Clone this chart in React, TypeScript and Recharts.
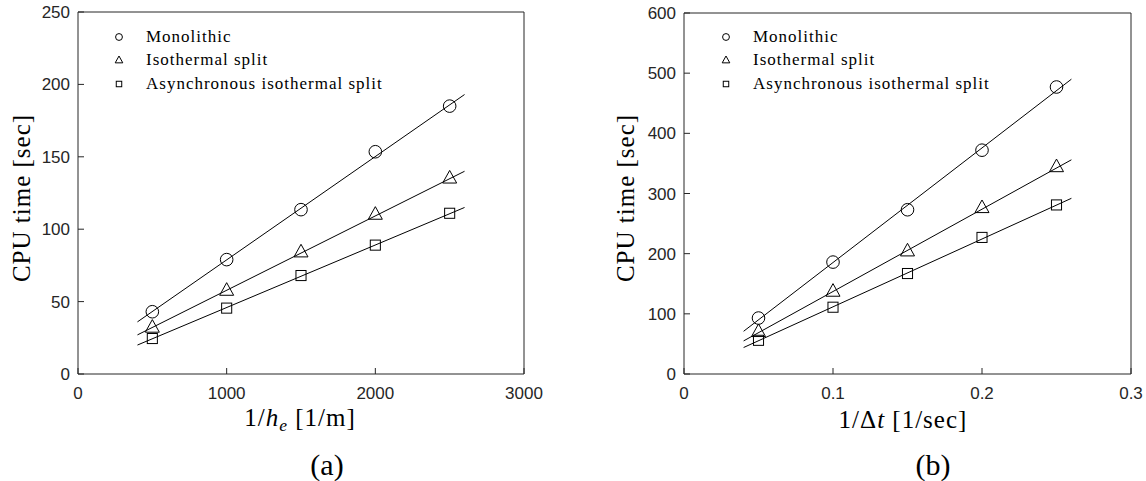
import React from 'react';
import { ScatterChart, Scatter, XAxis, YAxis, Legend } from 'recharts';

// (a) CPU time vs mesh refinement 1/h_e
const meshX = [500, 1000, 1500, 2000, 2500];
const meshMonolithic = [43, 79, 113.5, 153.5, 185];
const meshIsothermal = [32.5, 58, 84.5, 110.5, 135.5];
const meshAsync = [24.5, 45.5, 68, 89, 111];
// end points of the linear fits
const meshFitX = [400, 2600];
const meshFitMonolithic = [36, 193];
const meshFitIsothermal = [27, 140];
const meshFitAsync = [20, 115];
const meshXTicks = [0, 1000, 2000, 3000];
const meshYTicks = [0, 50, 100, 150, 200, 250];

// (b) CPU time vs time-step refinement 1/dt
const stepX = [0.05, 0.1, 0.15, 0.2, 0.25];
const stepMonolithic = [93, 186, 273, 372, 477];
const stepIsothermal = [71, 138, 205, 277, 345];
const stepAsync = [56, 111, 167, 227, 281];
const stepFitX = [0.04, 0.26];
const stepFitMonolithic = [71, 490];
const stepFitIsothermal = [55, 356];
const stepFitAsync = [44, 292];
const stepXTicks = [0, 0.1, 0.2, 0.3];
const stepYTicks = [0, 100, 200, 300, 400, 500, 600];

const seriesNames = ['Monolithic', 'Isothermal split', 'Asynchronous isothermal split'];
const markerKinds = ['circle', 'triangle', 'square'];

const AXIS = '#262626';
const SERIF = '"Liberation Serif", "Times New Roman", serif';
const SANS = '"Liberation Sans", Arial, Helvetica, sans-serif';

const toPoints = (xs: number[], ys: number[]) => xs.map((x, i) => ({ x, y: ys[i] }));

function Marker({ kind, cx, cy, s }: { kind: string; cx: number; cy: number; s: number }) {
  if (kind === 'circle') {
    return <circle cx={cx} cy={cy} r={s * 0.9} fill="none" stroke="#000" strokeWidth={1} />;
  }
  if (kind === 'triangle') {
    const pts = `${cx - s},${cy + s * 0.75} ${cx + s},${cy + s * 0.75} ${cx},${cy - s * 1.05}`;
    return <polygon points={pts} fill="none" stroke="#000" strokeWidth={1} />;
  }
  const h = s * 0.72;
  return <rect x={cx - h} y={cy - h} width={h * 2} height={h * 2} fill="none" stroke="#000" strokeWidth={1} />;
}

const shapeFor = (kind: string) => (props: any) => <Marker kind={kind} cx={props.cx} cy={props.cy} s={7} />;
const noShape = () => <g />;

function LegendBox() {
  return (
    <div style={{ fontFamily: SERIF, fontSize: 17, letterSpacing: 1, color: '#000' }}>
      {seriesNames.map((name, i) => (
        <div key={name} style={{ height: 23.3, display: 'flex', alignItems: 'center', whiteSpace: 'nowrap' }}>
          <svg width={10} height={10} style={{ marginRight: 22, overflow: 'visible' }}>
            <Marker kind={markerKinds[i]} cx={5} cy={5} s={3.8} />
          </svg>
          <span>{name}</span>
        </div>
      ))}
    </div>
  );
}

interface PanelProps {
  xs: number[];
  series: number[][];
  fitX: number[];
  fits: number[][];
  xTicks: number[];
  yTicks: number[];
  margin: { top: number; right: number; bottom: number; left: number };
  legendLeft: number;
}

function Panel({ xs, series, fitX, fits, xTicks, yTicks, margin, legendLeft }: PanelProps) {
  const xDomain = [xTicks[0], xTicks[xTicks.length - 1]];
  const yDomain = [yTicks[0], yTicks[yTicks.length - 1]];
  const tickStyle = { fill: AXIS, fontSize: 17, fontFamily: SANS };
  return (
    <ScatterChart width={573} height={481} margin={margin}>
      <XAxis dataKey="x" type="number" domain={xDomain} ticks={xTicks} stroke={AXIS}
        tick={tickStyle} tickSize={-6} tickMargin={19} height={30} />
      <XAxis xAxisId="top" orientation="top" dataKey="x" type="number" domain={xDomain} ticks={xTicks}
        stroke={AXIS} tick={false} tickSize={-6} height={1} />
      <YAxis dataKey="y" type="number" domain={yDomain} ticks={yTicks} stroke={AXIS}
        tick={tickStyle} tickSize={-6} tickMargin={14} width={60} />
      <YAxis yAxisId="right" orientation="right" dataKey="y" type="number" domain={yDomain} ticks={yTicks}
        stroke={AXIS} tick={false} tickSize={-6} width={1} />
      {fits.map((f, i) => (
        <Scatter key={`fit-${i}`} data={toPoints(fitX, f)} line={{ stroke: '#000', strokeWidth: 1 }}
          shape={noShape} legendType="none" isAnimationActive={false} />
      ))}
      {series.map((s, i) => (
        <Scatter key={`pts-${i}`} name={seriesNames[i]} data={toPoints(xs, s)}
          shape={shapeFor(markerKinds[i])} isAnimationActive={false} />
      ))}
      <Legend layout="vertical" align="center" verticalAlign="middle" content={() => <LegendBox />}
        wrapperStyle={{ left: legendLeft, top: 25.3, width: 'auto' }} />
    </ScatterChart>
  );
}

const overlay = (left: number, top: number, extra: React.CSSProperties = {}): React.CSSProperties => ({
  position: 'absolute', left, top, transform: 'translate(-50%, -50%)', whiteSpace: 'nowrap',
  fontFamily: SERIF, color: '#000', ...extra,
});

export default function App() {
  const yTitle = { fontSize: 25, letterSpacing: 1 };
  return (
    <div style={{ position: 'fixed', left: 0, top: 0, width: 1146, height: 481, background: '#fff', overflow: 'hidden' }}>
      <div style={{ position: 'absolute', left: 0, top: 0 }}>
        <Panel xs={meshX} series={[meshMonolithic, meshIsothermal, meshAsync]} fitX={meshFitX}
          fits={[meshFitMonolithic, meshFitIsothermal, meshFitAsync]} xTicks={meshXTicks} yTicks={meshYTicks}
          margin={{ top: 11, right: 48, bottom: 77, left: 18 }} legendLeft={114} />
      </div>
      <div style={{ position: 'absolute', left: 573, top: 0 }}>
        <Panel xs={stepX} series={[stepMonolithic, stepIsothermal, stepAsync]} fitX={stepFitX}
          fits={[stepFitMonolithic, stepFitIsothermal, stepFitAsync]} xTicks={stepXTicks} yTicks={stepYTicks}
          margin={{ top: 12, right: 14, bottom: 77, left: 51 }} legendLeft={148} />
      </div>

      <div style={{ ...overlay(22, 198, yTitle), transform: 'translate(-50%, -50%) rotate(-90deg)' }}>CPU time [sec]</div>
      <div style={{ ...overlay(626, 198, yTitle), transform: 'translate(-50%, -50%) rotate(-90deg)' }}>CPU time [sec]</div>

      <div style={overlay(300, 420, { fontSize: 25, letterSpacing: 1 })}>
        1/<i>h</i><sub style={{ fontSize: '0.7em', verticalAlign: '-0.3em' }}><i>e</i></sub> [1/m]
      </div>
      <div style={overlay(903, 420, { fontSize: 25, letterSpacing: 1 })}>
        1/Δ<i>t</i> [1/sec]
      </div>

      <div style={overlay(327, 465, { fontSize: 30 })}>(a)</div>
      <div style={overlay(933, 465, { fontSize: 30 })}>(b)</div>
    </div>
  );
}
